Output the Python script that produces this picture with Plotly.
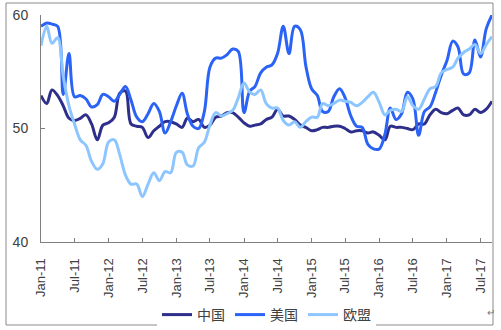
import pandas as pd
import plotly.graph_objects as go

# ---- data (monthly, Jan-2011 .. Sep-2017) ----
months = pd.date_range("2011-01-01", "2017-09-01", freq="MS")

china = [
    52.9, 52.2, 53.4, 52.9, 52.0, 50.9, 50.7, 50.9, 51.2, 50.4, 49.0, 50.3,
    50.5, 51.0, 53.1, 53.3, 50.4, 50.2, 50.1, 49.2, 49.8, 50.2, 50.6, 50.6,
    50.4, 50.1, 50.9, 50.6, 50.8, 50.1, 50.3, 51.0, 51.1, 51.4, 51.4, 51.0,
    50.5, 50.2, 50.3, 50.4, 50.8, 51.0, 51.7, 51.1, 51.1, 50.8, 50.3, 50.1,
    49.8, 49.9, 50.1, 50.1, 50.2, 50.2, 50.0, 49.7, 49.8, 49.8, 49.6, 49.7,
    49.4, 49.0, 50.2, 50.1, 50.1, 50.0, 49.9, 50.4, 50.4, 51.2, 51.7, 51.4,
    51.3, 51.6, 51.8, 51.2, 51.2, 51.7, 51.4, 51.7, 52.4,
]
usa = [
    59.0, 59.3, 59.2, 59.0, 53.0, 56.6, 52.8, 52.9, 52.6, 51.9, 52.1, 53.0,
    52.8, 52.4, 53.0, 53.7, 52.5, 51.0, 50.6, 51.3, 52.2, 51.5, 49.6, 50.6,
    52.0, 53.1, 51.3, 50.2, 50.0, 51.5, 55.4, 56.2, 56.2, 56.5, 57.0, 56.8,
    51.4, 53.3, 53.7, 54.9, 55.4, 55.6, 56.6, 59.0, 56.6, 59.0, 58.7, 55.5,
    53.5, 52.9, 51.5, 51.5, 52.8, 53.5, 52.7, 51.1, 50.2, 50.1, 48.6, 48.2,
    48.2, 49.5, 51.8, 50.8, 51.3, 53.2, 52.6, 49.4, 51.5, 51.9, 53.2, 54.7,
    56.0, 57.7, 57.2, 54.8, 54.9, 57.8, 56.3, 58.8, 60.0,
]
eu = [
    57.3, 59.0, 57.5, 58.0, 54.6, 52.0, 50.4, 49.0, 48.5, 47.1, 46.4, 46.9,
    48.8, 49.0, 47.7, 45.9, 45.1, 45.1, 44.0, 45.1, 46.1, 45.4, 46.2, 46.1,
    47.9, 47.9, 46.8, 46.7, 48.3, 48.8, 50.3, 51.4, 51.1, 51.3, 51.6, 52.7,
    54.0, 53.2, 53.0, 53.4, 52.2, 51.8, 51.8, 50.7, 50.3, 50.6, 50.1, 50.6,
    51.0, 51.0, 52.2, 52.0, 52.2, 52.5, 52.4, 52.3, 52.0, 52.3, 52.8, 53.2,
    52.3, 51.2, 51.6, 51.7, 51.5, 52.8, 52.0, 51.7, 52.6, 53.5, 53.7, 54.9,
    55.2, 55.4, 56.2, 56.7, 57.0, 57.4, 56.6, 57.4, 58.1,
]
series_names = ["中国", "美国", "欧盟"]
series_colors = ["#2E2F8A", "#2B63F6", "#8DC6FF"]

tick_dates = ["2011-01-01", "2011-07-01", "2012-01-01", "2012-07-01", "2013-01-01",
              "2013-07-01", "2014-01-01", "2014-07-01", "2015-01-01", "2015-07-01",
              "2016-01-01", "2016-07-01", "2017-01-01", "2017-07-01"]
tick_labels = ["Jan-11", "Jul-11", "Jan-12", "Jul-12", "Jan-13", "Jul-13", "Jan-14",
               "Jul-14", "Jan-15", "Jul-15", "Jan-16", "Jul-16", "Jan-17", "Jul-17"]
y_ticks = [40, 50, 60]

# ---- figure ----
W, H = 501, 330
L, R, T, B = 41, 9, 15, 88
pw, ph = W - L - R, H - T - B

def px(x):
    return (x - L) / pw

def py(y):
    return (H - B - y) / ph

fig = go.Figure()
for name, vals, col in zip(series_names, [china, usa, eu], series_colors):
    fig.add_trace(go.Scatter(
        x=months, y=vals, name=name, mode="lines",
        line=dict(color=col, width=3, shape="spline", smoothing=1.0),
    ))

font_fam = "Liberation Sans, Arial, Noto Sans CJK SC, sans-serif"
fig.update_layout(
    width=W, height=H,
    margin=dict(l=L, r=R, t=T, b=B, autoexpand=False),
    paper_bgcolor="white", plot_bgcolor="white",
    font=dict(family=font_fam, color="#404040", size=13),
    showlegend=True,
    legend=dict(orientation="h", x=0.5, xanchor="center",
                y=py(315), yanchor="middle",
                font=dict(size=14, color="#404040"),
                itemwidth=30, tracegroupgap=0),
    shapes=[dict(type="rect", xref="paper", yref="paper",
                 x0=px(6), x1=px(493), y0=py(325), y1=py(3),
                 line=dict(color="#8a8a8a", width=1), layer="below")],
    annotations=[dict(text="↵", xref="paper", yref="paper",
                      x=px(497), y=py(320), showarrow=False,
                      font=dict(size=10, color="#777777"))],
)
fig.update_xaxes(
    type="date", range=[months[0], months[-1]],
    tickvals=tick_dates, ticktext=tick_labels, tickangle=-90,
    ticks="inside", ticklen=4, tickcolor="#7f7f7f",
    showline=True, linecolor="#7f7f7f", linewidth=1,
    showgrid=False, zeroline=False,
    tickfont=dict(size=13, color="#404040"),
    ticklabelstandoff=10,
)
fig.update_yaxes(
    range=[40, 60], tickvals=y_ticks,
    ticks="inside", ticklen=4, tickcolor="#7f7f7f",
    showline=True, linecolor="#7f7f7f", linewidth=1,
    showgrid=False, zeroline=False,
    tickfont=dict(size=14, color="#404040"),
    ticklabelstandoff=9,
)

fig.write_html("out.html")
